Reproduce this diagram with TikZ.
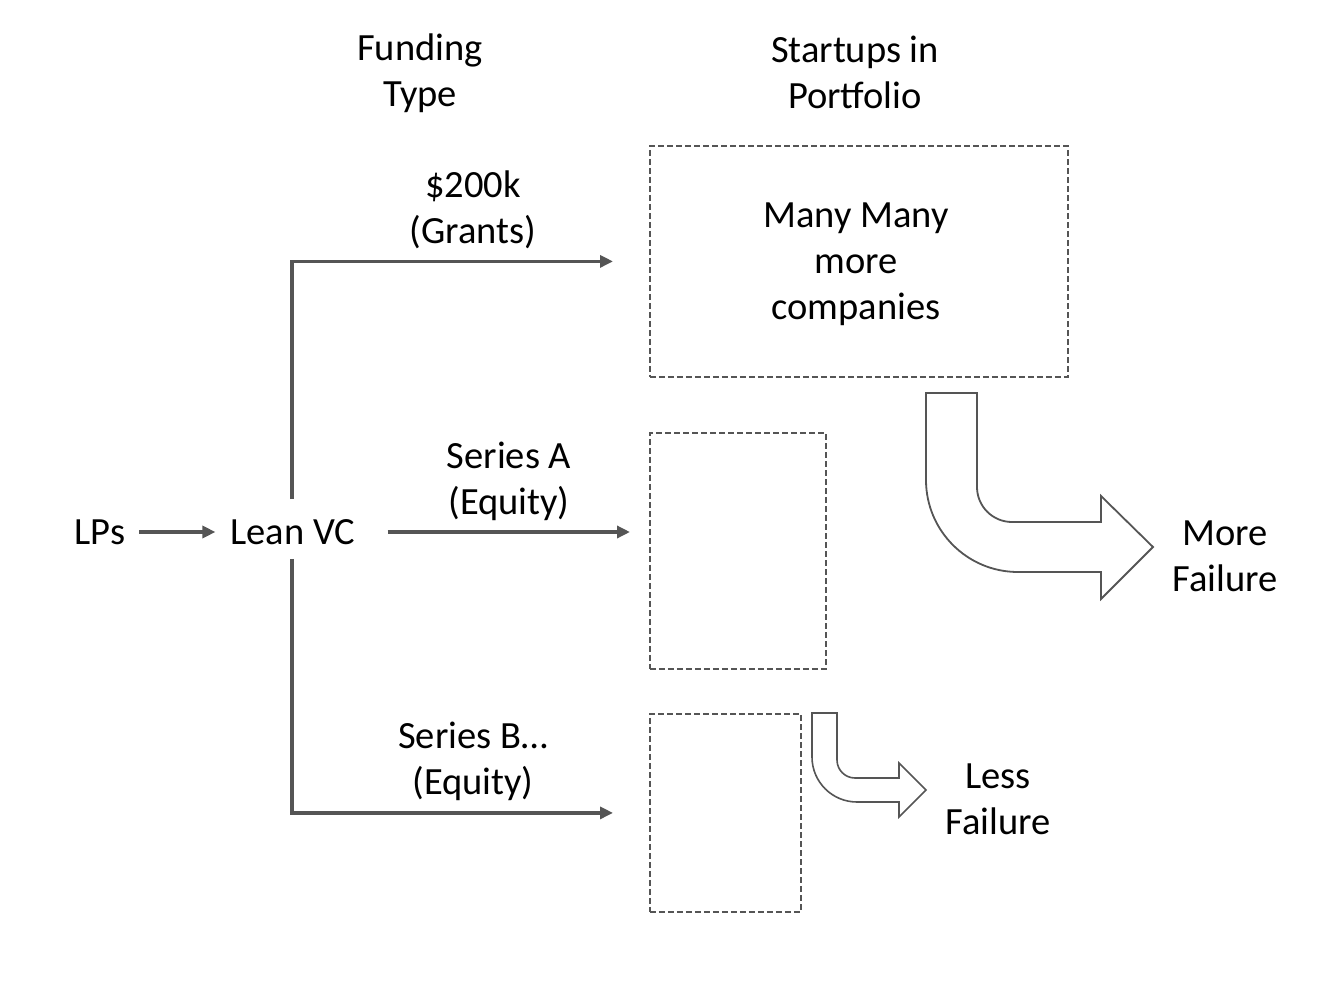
\documentclass[tikz,border=0pt]{standalone}
\usepackage{fontspec}
\setmainfont{Carlito}
\usetikzlibrary{arrows.meta}
\definecolor{lc}{HTML}{555555}
\tikzset{
 lbl/.style={font=\fontsize{38.5}{46}\selectfont, align=center, text=black, inner sep=0pt},
 arr/.style={draw=lc, line width=3.5pt, -{Triangle[length=13pt,width=12pt]}},
 dbox/.style={draw=lc, line width=1.8pt, dash pattern=on 6pt off 3pt, inner sep=0pt, anchor=north west},
 bent/.style={draw=lc, line width=1.8pt, fill=white, line join=miter}
}
\begin{document}
\begin{tikzpicture}[x=1pt,y=-1pt]
\useasboundingbox (0,0) rectangle (1342,1006);
% headers
\node[lbl] (hfund) at (420,73) {Funding\\Type};
\node[lbl] (hstart) at (855,72) {Startups in\\Portfolio};
% main nodes
\node[lbl] (lps) at (100,532) {LPs};
\node[lbl] (lean) at (293,532) {Lean VC};
% boxes
\node[dbox, minimum width=418pt, minimum height=231pt] (box1) at (649,145) {};
\node[dbox, minimum width=176pt, minimum height=236pt] (box2) at (649,432) {};
\node[dbox, minimum width=151pt, minimum height=198pt] (box3) at (649,713) {};
\node[lbl] (many) at (856,264) {Many Many\\more\\companies};
% branch labels
\node[lbl] (l1) at (473,210) {\$200k\\(Grants)};
\node[lbl] (l2) at (509,481) {Series A\\(Equity)};
\node[lbl] (l3) at (473,761) {Series B…\\(Equity)};
% outcome labels
\node[lbl] (more) at (1225,556) {More\\Failure};
\node[lbl] (less) at (998,799) {Less\\Failure};
% connectors
\draw[arr, shorten <=14pt, shorten >=15pt] (lps) -- (lean);
\draw[arr, shorten <=20pt, shorten >=36pt] ([xshift=-1pt]lean.north) |- (box1.west);
\draw[arr, shorten <=32pt, shorten >=19pt] (lean.east) -- (lean.east -| box2.west);
\draw[arr, shorten <=14pt, shorten >=36pt] ([xshift=-1pt]lean.south) |- (box3.west);
% big bent arrow
\draw[bent] (926,393) -- (977,393) -- (977,487)
  arc[start angle=180, end angle=90, radius=35]
  -- (1101,522) -- (1101,496) -- (1153,547) -- (1101,599) -- (1101,572) -- (1018,572)
  arc[start angle=90, end angle=180, radius=92] -- cycle;
% small bent arrow
\draw[bent, line width=1.6pt] (812,713) -- (837,713) -- (837,760)
  arc[start angle=180, end angle=90, radius=18]
  -- (899,778) -- (899,763) -- (926,790) -- (899,817) -- (899,802) -- (857,802)
  arc[start angle=90, end angle=180, radius=45] -- cycle;
\end{tikzpicture}
\end{document}
